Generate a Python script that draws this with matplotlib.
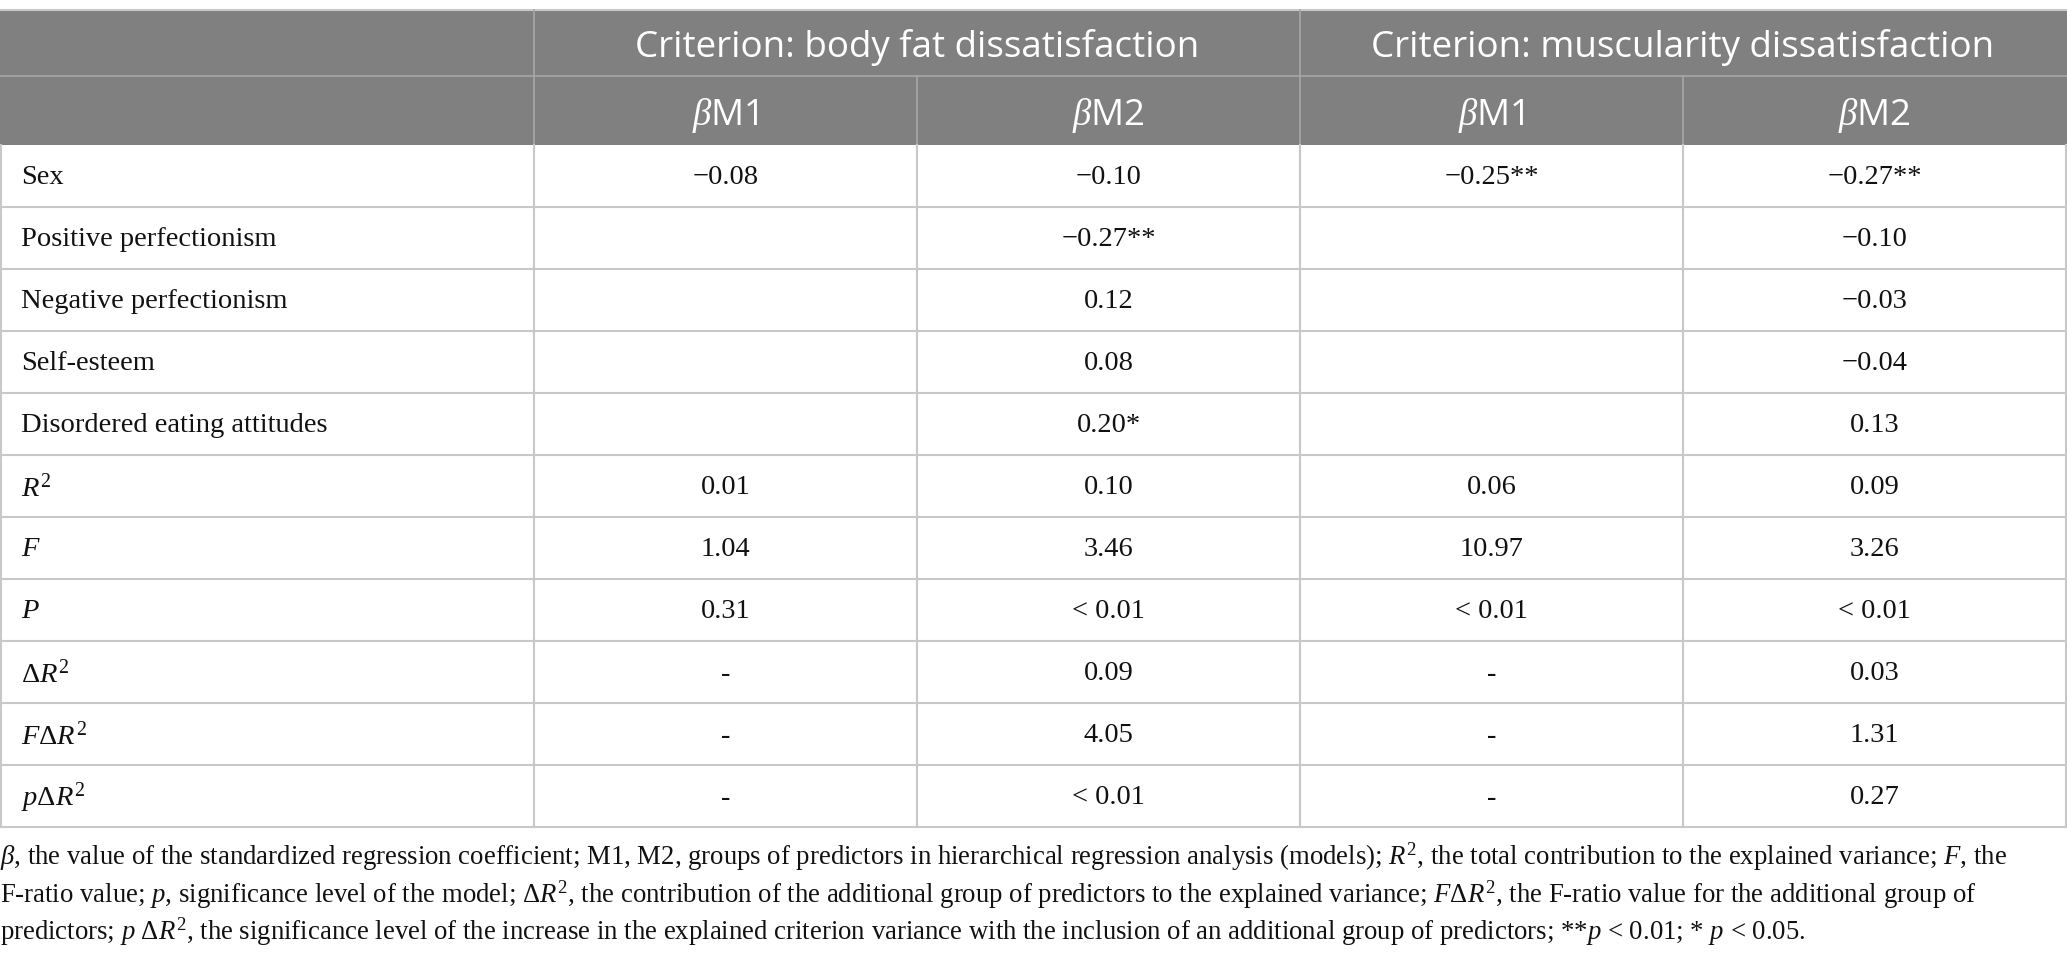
import matplotlib.pyplot as plt
from matplotlib.patches import Rectangle

plt.rcParams['mathtext.fontset'] = 'custom'
plt.rcParams['mathtext.rm'] = 'Liberation Serif'
plt.rcParams['mathtext.it'] = 'Liberation Serif:italic'
plt.rcParams['mathtext.bf'] = 'Liberation Serif:bold'

# table content
group_headers = ["Criterion: body fat dissatisfaction", "Criterion: muscularity dissatisfaction"]
sub_headers = [r"$\beta$M1", r"$\beta$M2", r"$\beta$M1", r"$\beta$M2"]
row_labels = ["Sex", "Positive perfectionism", "Negative perfectionism", "Self-esteem",
              "Disordered eating attitudes", r"$R^2$", r"$F$", r"$P$",
              r"$\Delta R^2$", r"$F\Delta R^2$", r"$p\Delta R^2$"]
fat_m1 = ["\u22120.08", "", "", "", "", "0.01", "1.04", "0.31", "-", "-", "-"]
fat_m2 = ["\u22120.10", "\u22120.27**", "0.12", "0.08", "0.20*", "0.10", "3.46", "< 0.01", "0.09", "4.05", "< 0.01"]
mus_m1 = ["\u22120.25**", "", "", "", "", "0.06", "10.97", "< 0.01", "-", "-", "-"]
mus_m2 = ["\u22120.27**", "\u22120.10", "\u22120.03", "\u22120.04", "0.13", "0.09", "3.26", "< 0.01", "0.03", "1.31", "0.27"]
footnote = [
    r"$\beta$, the value of the standardized regression coefficient; M1, M2, groups of predictors in hierarchical regression analysis (models); $R^2$, the total contribution to the explained variance; $F$, the",
    r"F-ratio value; $p$, significance level of the model; $\Delta R^2$, the contribution of the additional group of predictors to the explained variance; $F\mathit{\Delta}R^2$, the F-ratio value for the additional group of",
    r"predictors; $p\ \mathit{\Delta}R^2$, the significance level of the increase in the explained criterion variance with the inclusion of an additional group of predictors; **$p$ < 0.01; * $p$ < 0.05.",
]

W, H = 2067, 959
fig = plt.figure(figsize=(W / 100, H / 100), dpi=100)
ax = fig.add_axes([0, 0, 1, 1])
ax.set_xlim(0, W)
ax.set_ylim(H, 0)
ax.axis('off')

col_x = [1, 534, 917, 1300, 1683, 2066]
top, h1_bot, h2_bot, row_h = 10, 76, 145, 62
header_bg = '#7f807f'
head_line = '#a6a7a6'
grid = '#c8c8c8'

# header
ax.add_patch(Rectangle((0, top), W, h2_bot - top, color=header_bg, lw=0))
ax.plot([0, W], [top, top], color=grid, lw=1.5)
ax.plot([0, W], [h1_bot, h1_bot], color=head_line, lw=1.2)
for x in [534, 1300]:
    ax.plot([x, x], [top, h2_bot], color=head_line, lw=1.2)
for x in [917, 1683]:
    ax.plot([x, x], [h1_bot, h2_bot], color=head_line, lw=1.2)

hfont = dict(family='Open Sans', color='white', fontsize=26.5, ha='center', va='center')
ax.text((534 + 1300) / 2, (top + h1_bot) / 2 + 4, group_headers[0], **hfont)
ax.text((1300 + 2066) / 2, (top + h1_bot) / 2 + 4, group_headers[1], **hfont)
for i, s in enumerate(sub_headers):
    ax.text((col_x[i + 1] + col_x[i + 2]) / 2, (h1_bot + h2_bot) / 2 + 5, s, **hfont)

# body
n = len(row_labels)
bottom = h2_bot + n * row_h
for k in range(1, n + 1):
    y = h2_bot + k * row_h
    ax.plot([0, W], [y, y], color=grid, lw=1.5)
for x in col_x:
    ax.plot([x, x], [h2_bot, bottom], color=grid, lw=1.5)

bfont = dict(family='Liberation Serif', color='#111111', fontsize=20.5, va='center')
columns = [fat_m1, fat_m2, mus_m1, mus_m2]
for r in range(n):
    yc = h2_bot + r * row_h + row_h / 2 + 2
    ax.text(21, yc, row_labels[r], ha='left', **bfont)
    for c, vals in enumerate(columns):
        ax.text((col_x[c + 1] + col_x[c + 2]) / 2, yc, vals[r], ha='center', **bfont)

# footnote
for i, line in enumerate(footnote):
    ax.text(0, 857 + i * 37.5, line, family='Liberation Serif', color='#111111',
            fontsize=19.3, ha='left', va='center')

fig.savefig('out.png', dpi=100, facecolor='white')
